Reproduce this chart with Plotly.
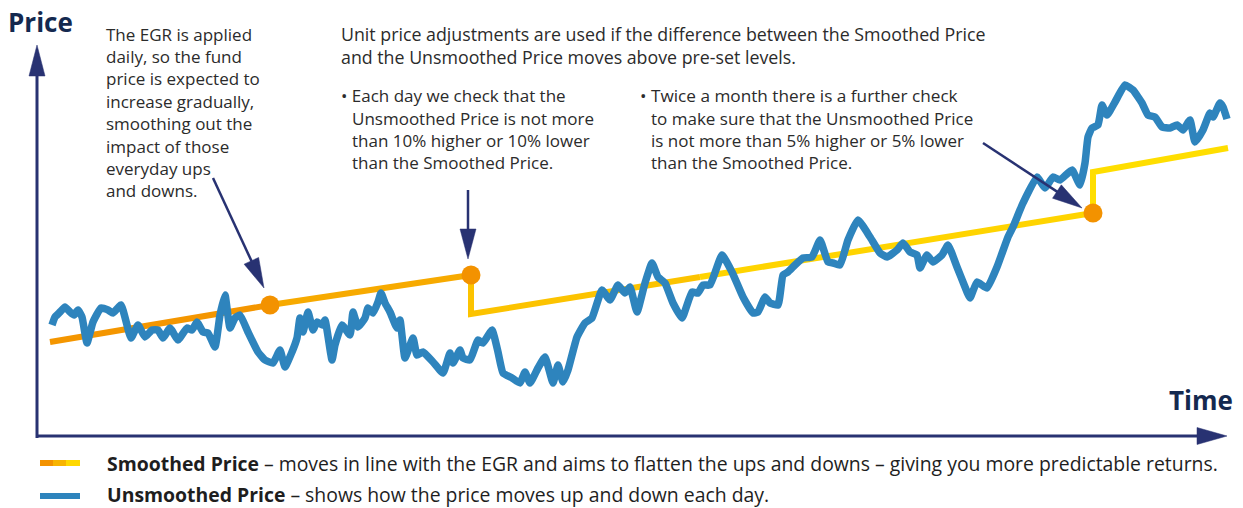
import plotly.graph_objects as go
import math

# ---------------- data ----------------
# Unsmoothed price (blue): time index and price level
unsmoothed_time = [52, 55, 60, 65, 70, 74, 78, 82, 87, 93, 101, 108, 113, 121, 131, 138, 145, 152, 158, 163,
                   170, 178, 187, 192, 197, 203, 208, 215, 220, 225, 230, 235, 240, 248, 258, 265, 273, 280, 285, 292,
                   297, 300, 303, 308, 313, 317, 322, 325, 332, 335, 342, 350, 353, 358, 365, 368, 373, 378, 381, 385,
                   390, 397, 400, 405, 413, 417, 423, 433, 443, 450, 453, 460, 463, 470, 478, 483, 492, 498, 503, 512,
                   520, 525, 530, 538, 545, 553, 558, 563, 568, 577, 585, 592, 602, 610, 618, 625, 630, 637, 645, 652,
                   658, 665, 673, 682, 692, 698, 703, 710, 722, 732, 743, 753, 758, 765, 770, 778, 783, 788, 795, 803,
                   812, 820, 828, 833, 840, 848, 858, 870, 880, 887, 897, 903, 910, 917, 920, 927, 933, 942, 948, 957,
                   965, 970, 977, 987, 997, 1008, 1013, 1023, 1037, 1045, 1053, 1060, 1072, 1080, 1085, 1088, 1092, 1098,
                   1102, 1107, 1115, 1125, 1133, 1142, 1148, 1155, 1162, 1170, 1177, 1183, 1190, 1195, 1203, 1210, 1213,
                   1220, 1223, 1227]
unsmoothed_price = [183, 191, 196, 201, 196, 193, 198, 191, 165, 186, 200, 198, 195, 203, 170, 183, 171, 178, 178, 170,
                    180, 168, 180, 178, 186, 176, 175, 161, 193, 213, 180, 190, 193, 176, 156, 148, 145, 158, 141, 156,
                    170, 190, 176, 196, 178, 186, 183, 188, 148, 163, 183, 173, 196, 181, 190, 200, 195, 206, 215, 205,
                    196, 180, 188, 150, 170, 153, 156, 146, 135, 155, 145, 158, 150, 148, 168, 165, 178, 156, 135, 130,
                    125, 136, 125, 140, 151, 125, 143, 126, 138, 171, 185, 190, 218, 208, 223, 215, 221, 196, 225, 245,
                    231, 225, 205, 190, 216, 215, 223, 223, 253, 236, 211, 195, 196, 211, 205, 203, 233, 236, 243, 250,
                    251, 268, 246, 245, 243, 268, 288, 271, 255, 251, 258, 265, 256, 253, 240, 253, 246, 253, 263, 241,
                    221, 210, 226, 220, 241, 271, 281, 305, 331, 320, 331, 328, 338, 323, 345, 371, 380, 383,
                    403, 393, 406, 423, 418, 405, 393, 391, 381, 380, 383, 378, 388, 366, 378, 395, 391,
                    405, 401, 389]

# Smoothed price (orange -> yellow), split into colour pieces
smoothed_pieces_time = [[50, 270], [270, 471], [471, 471, 700], [700, 1093], [1093, 1093, 1228]]
smoothed_pieces_price = [[166, 203], [203, 233], [233, 194, 231], [231, 295], [295, 336, 360]]
smoothed_piece_colors = ["#f49600", "#f7aa00", "#fcc300", "#ffd400", "#ffde00"]

# Check points (orange dots)
check_time = [270, 471, 1093]
check_price = [203, 233, 295]

W, H = 1243, 508
NAVY = "#283272"
TEXT = "#2b2b2b"
FONT = "Open Sans"


def py(ypx):
    return H - ypx


fig = go.Figure()

for t, p, c in zip(smoothed_pieces_time, smoothed_pieces_price, smoothed_piece_colors):
    fig.add_trace(go.Scatter(x=t, y=p, mode="lines", line=dict(color=c, width=6),
                             hoverinfo="skip", showlegend=False))

fig.add_trace(go.Scatter(x=unsmoothed_time, y=unsmoothed_price, mode="lines",
                         line=dict(color="#2e84bd", width=7.5, shape="spline", smoothing=0.4),
                         showlegend=False, hoverinfo="skip"))

fig.add_trace(go.Scatter(x=check_time, y=check_price, mode="markers",
                         marker=dict(color="#f39200", size=19), showlegend=False, hoverinfo="skip"))

shapes = []


def arrow(x0, y0, x1, y1, width=2.5, L=30, hw=8):
    dx, dy = x1 - x0, y1 - y0
    d = math.hypot(dx, dy)
    ux, uy = dx / d, dy / d
    nx, ny = -uy, ux
    bx, by = x1 - L * ux, y1 - L * uy
    shapes.append(dict(type="line", xref="x", yref="y", x0=x0, y0=py(y0), x1=bx + ux * 2, y1=py(by + uy * 2),
                       line=dict(color=NAVY, width=width)))
    path = "M {},{} L {},{} L {},{} Z".format(x1, py(y1), bx + hw * nx, py(by + hw * ny), bx - hw * nx, py(by - hw * ny))
    shapes.append(dict(type="path", xref="x", yref="y", path=path, fillcolor=NAVY,
                       line=dict(color=NAVY, width=0.5)))


# axes
arrow(37, 438, 37, 45, width=3, L=31, hw=8)
arrow(36, 436, 1227, 436, width=3, L=30, hw=8.5)
# callout arrows
arrow(213, 178, 264, 288)
arrow(468, 190, 468, 259)
arrow(983, 143, 1082, 208)

# legend swatches
for (xa, xb, c) in [(40, 54, "#f39200"), (53, 67, "#f8b400"), (66, 80, "#ffd800")]:
    shapes.append(dict(type="line", xref="x", yref="y", x0=xa, x1=xb, y0=py(463), y1=py(463),
                       line=dict(color=c, width=6)))
shapes.append(dict(type="line", xref="x", yref="y", x0=40, x1=80, y0=py(496), y1=py(496),
                   line=dict(color="#2e84bd", width=6)))

annotations = []


def text(x, ypx, s, size=17, color=TEXT, anchor="left", family=FONT):
    annotations.append(dict(x=x, y=py(ypx), xref="x", yref="y", text=s, showarrow=False,
                            xanchor=anchor, yanchor="middle", align="left", borderpad=0,
                            font=dict(family=family, size=size, color=color)))


text(7, 22, "<b>Price</b>", size=26, color="#14294f")
text(1234, 400, "<b>Time</b>", size=26, color="#14294f", anchor="right")

block1 = ["The EGR is applied", "daily, so the fund", "price is expected to", "increase gradually,",
          "smoothing out the", "impact of those", "everyday ups", "and downs."]
for i, s in enumerate(block1):
    text(105, 34 + i * 22.4, s)

text(340, 34, "Unit price adjustments are used if the difference between the Smoothed Price", size=17.8)
text(340, 57, "and the Unsmoothed Price moves above pre-set levels.", size=17.8)

b2 = ["Unsmoothed Price is not more", "than 10% higher or 10% lower", "than the Smoothed Price."]
text(340, 95, "• Each day we check that the")
for i, s in enumerate(b2):
    text(351, 118 + i * 22.4, s)

b3 = ["to make sure that the Unsmoothed Price", "is not more than 5% higher or 5% lower", "than the Smoothed Price."]
text(639, 95, "• Twice a month there is a further check", size=17.2)
for i, s in enumerate(b3):
    text(650, 118 + i * 22.4, s)

text(106, 463, "<b>Smoothed Price</b> – moves in line with the EGR and aims to flatten the ups and downs – giving you more predictable returns.",
     size=19.4, color="#1e1e1e")
text(106, 494.5, "<b>Unsmoothed Price</b> – shows how the price moves up and down each day.", size=19.4, color="#1e1e1e")

fig.update_layout(
    width=W, height=H, margin=dict(l=0, r=0, t=0, b=0),
    paper_bgcolor="white", plot_bgcolor="white",
    xaxis=dict(range=[0, W], visible=False, fixedrange=True),
    yaxis=dict(range=[0, H], visible=False, fixedrange=True),
    shapes=shapes, annotations=annotations, showlegend=False,
)

fig.write_html("out.html", config={"displayModeBar": False},
               post_script="document.body.style.margin='0';document.body.style.overflow='hidden';")
